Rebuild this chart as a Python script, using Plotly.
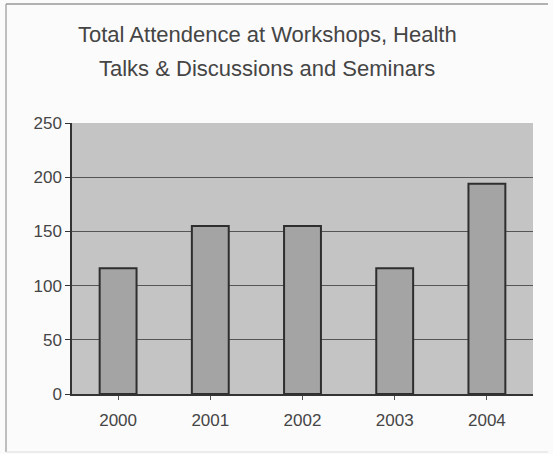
import plotly.graph_objects as go

years = ["2000", "2001", "2002", "2003", "2004"]
attendance = [116, 155, 155, 116, 194]
y_ticks = [0, 50, 100, 150, 200, 250]
title_lines = ["Total Attendence at Workshops, Health", "Talks & Discussions and Seminars"]

fig = go.Figure()
fig.add_trace(go.Bar(
    x=years, y=attendance,
    marker=dict(color="#a4a4a4", line=dict(color="#2e2e2e", width=2)),
    width=0.4,
))

PW, PH = 461, 271  # plot area size in px
title_y_px = [35, 68]  # distance from top of plot area is 123px
annotations = [
    dict(text=t, xref="paper", yref="paper",
         x=(267 - 72) / PW, y=1 + (123 - py) / PH,
         xanchor="center", yanchor="middle", showarrow=False,
         font=dict(size=22, color="#454545"))
    for t, py in zip(title_lines, title_y_px)
]

fig.update_layout(
    width=553, height=454,
    margin=dict(l=72, r=20, t=123, b=60),
    paper_bgcolor="#fbfbfb",
    plot_bgcolor="#c4c4c4",
    font=dict(family="Liberation Sans, Arial, sans-serif", color="#454545"),
    showlegend=False,
    annotations=annotations,
    xaxis=dict(
        showline=True, linecolor="#333333", linewidth=1.5,
        ticks="outside", ticklen=4, tickcolor="#555555",
        tickfont=dict(size=17), showgrid=False, ticklabelstandoff=6,
    ),
    yaxis=dict(
        range=[0, 250], tickvals=y_ticks,
        showline=True, linecolor="#333333", linewidth=1.5,
        ticks="outside", ticklen=5, tickcolor="#333333",
        tickfont=dict(size=17), showgrid=True, gridcolor="#555555", gridwidth=1,
        zeroline=False,
    ),
    shapes=[
        dict(type="line", xref="paper", yref="paper",
             x0=-66/PW, x1=-66/PW, y0=-58/PH, y1=1 + 119/PH,
             line=dict(color="#aaaaaa", width=1.5)),
        dict(type="line", xref="paper", yref="paper",
             x0=-66/PW, x1=1 + 15/PW, y0=1 + 119/PH, y1=1 + 119/PH,
             line=dict(color="#999999", width=1.5)),
        dict(type="line", xref="paper", yref="paper",
             x0=-66/PW, x1=1 + 15/PW, y0=-58/PH, y1=-58/PH,
             line=dict(color="#dddddd", width=1)),
    ],
)

fig.write_html("out.html")
